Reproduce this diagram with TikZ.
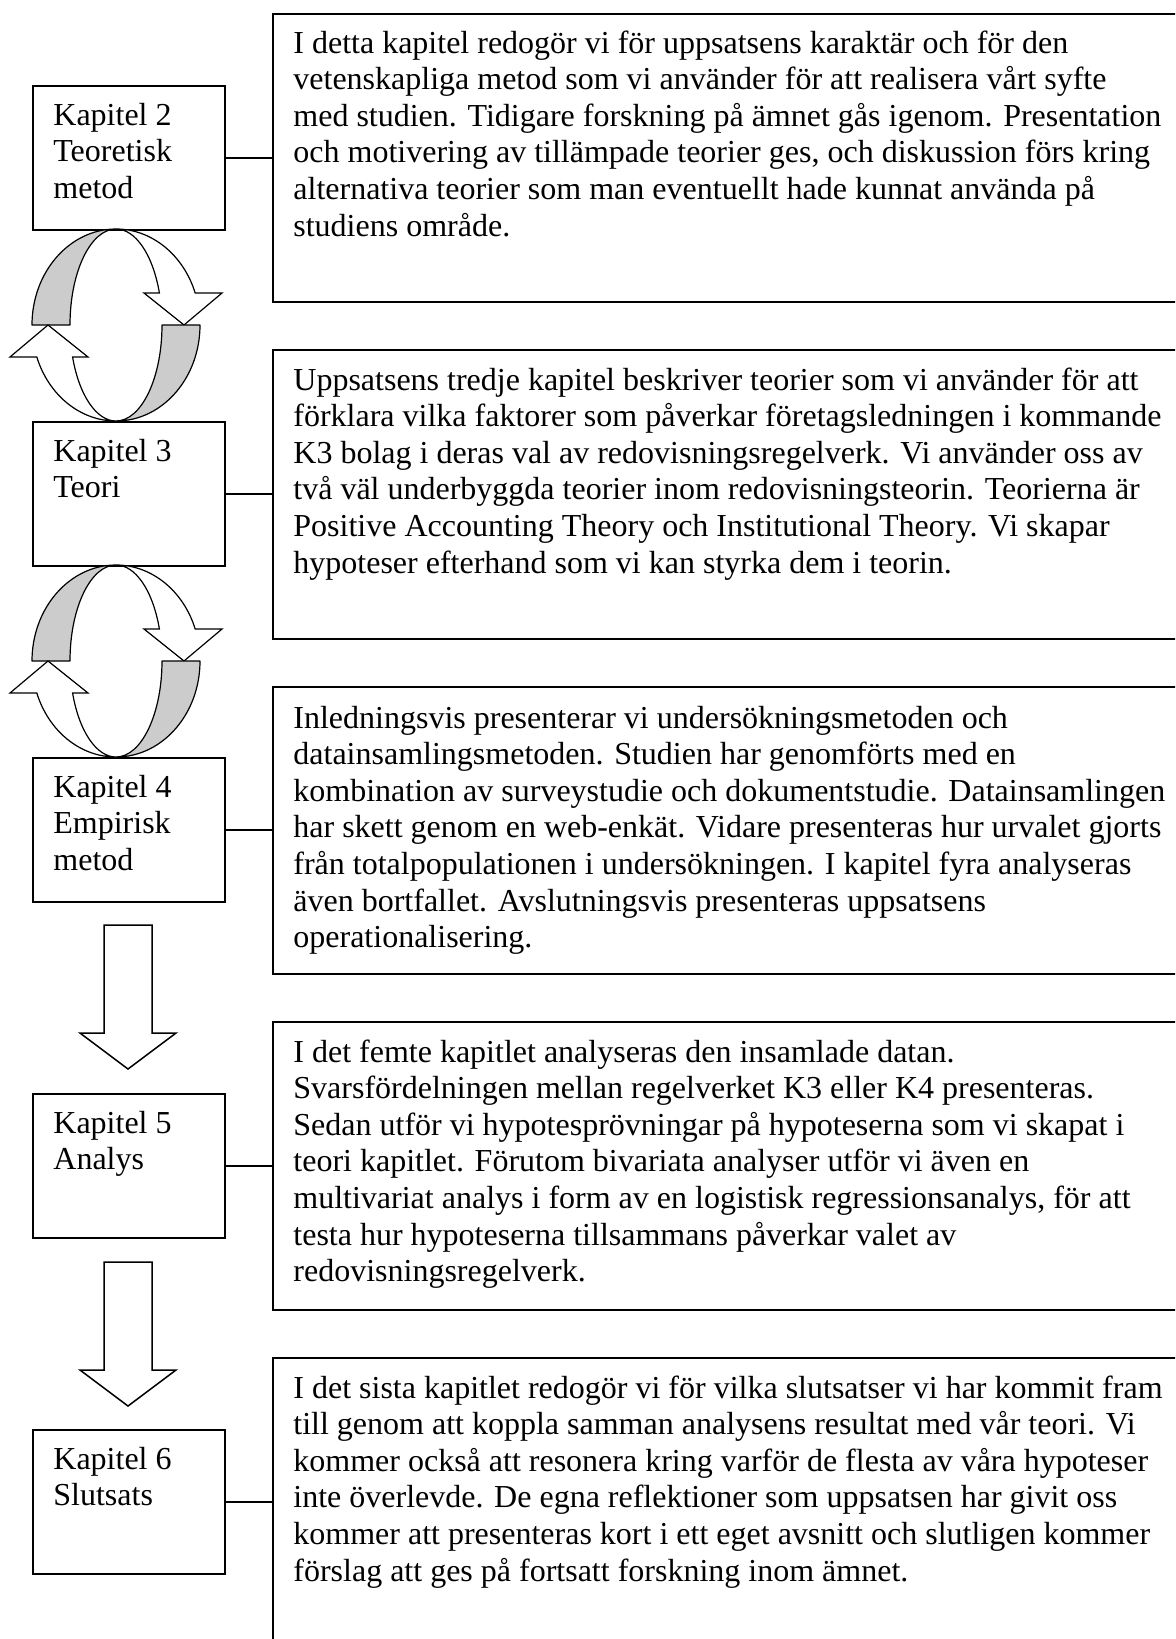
\documentclass[tikz,border=0pt]{standalone}
\usepackage{fontspec}
\setmainfont{Liberation Serif}
% a block of lines whose reference point is the baseline of its first line
\newcommand\lines[1]{\begin{tabular}[t]{@{}l@{}}#1\end{tabular}}
\begin{document}
\begin{tikzpicture}[x=0.5pt,y=0.5pt,
  chap/.style={draw, line width=0.75pt, anchor=north west, minimum width=96pt,
    minimum height=72pt, inner sep=0pt},
  desc/.style={draw, line width=0.75pt, anchor=north west, minimum width=454pt,
    minimum height=144pt, inner sep=0pt},
  txt/.style={anchor=base west, inner sep=0pt, font=\fontsize{16}{18.3}\selectfont},
  link/.style={line width=0.75pt},
  band/.style={draw, line width=0.6pt, fill=black!20, line join=round},
  hollow/.style={draw, line width=0.6pt, fill=white, line join=miter},
  swaparrows/.pic={
    % upper left shaded band
    \path[band] (-84,0) arc[start angle=180, end angle=90, x radius=84, y radius=96]
      arc[start angle=90, end angle=180, x radius=46, y radius=96] -- cycle;
    % upper right white arrow pointing down
    \path[hollow] (0,96) arc[start angle=90, end angle=19.47, x radius=84, y radius=96]
      -- (106,32) -- (68,0) -- (28,32) -- (43.4,32)
      arc[start angle=19.47, end angle=90, x radius=46, y radius=96] -- cycle;
    % lower right shaded band
    \path[band] (84,0) arc[start angle=0, end angle=-90, x radius=84, y radius=96]
      arc[start angle=-90, end angle=0, x radius=46, y radius=96] -- cycle;
    % lower left white arrow pointing up
    \path[hollow] (0,-96) arc[start angle=270, end angle=199.47, x radius=84, y radius=96]
      -- (-106,-32) -- (-68,0) -- (-28,-32) -- (-43.4,-32)
      arc[start angle=199.47, end angle=270, x radius=46, y radius=96] -- cycle;
  },
  downarrow/.pic={
    \path[hollow, line width=0.75pt] (-24,0) -- (24,0) -- (24,-108) -- (48,-108)
      -- (0,-144) -- (-48,-108) -- (-24,-108) -- cycle;
  },
]
\path[use as bounding box] (0,0) rectangle (1175,-1639);
\clip (0,0) rectangle (1175,-1639);

% chapter boxes
\node[chap] (k2) at (32,-85) {};
\node[chap] (k3) at (32,-421) {};
\node[chap] (k4) at (32,-757) {};
\node[chap] (k5) at (32,-1093) {};
\node[chap] (k6) at (32,-1429) {};

% description boxes (they run past the right edge, the last one past the bottom)
\node[desc] (r1) at (272,-13) {};
\node[desc, minimum height=144.5pt] (r2) at (272,-349) {};
\node[desc, minimum height=143.5pt] (r3) at (272,-686) {};
\node[desc] (r4) at (272,-1021) {};
\node[desc] (r5) at (272,-1357) {};

% connectors
\draw[link] (k2.east) -- (k2.east -| r1.west);
\draw[link] (k3.east) -- (k3.east -| r2.west);
\draw[link] (k4.east) -- (k4.east -| r3.west);
\draw[link] (k5.east) -- (k5.east -| r4.west);
\draw[link] (k6.east) -- (k6.east -| r5.west);

% chapter titles
\node[txt] (k2t) at ([shift={(21,-40)}]k2.north west) {\lines{Kapitel 2\\Teoretisk\\metod}};
\node[txt] (k3t) at ([shift={(21,-40)}]k3.north west) {\lines{Kapitel 3\\Teori}};
\node[txt] (k4t) at ([shift={(21,-40)}]k4.north west) {\lines{Kapitel 4\\Empirisk\\metod}};
\node[txt] (k5t) at ([shift={(21,-40)}]k5.north west) {\lines{Kapitel 5\\Analys}};
\node[txt] (k6t) at ([shift={(21,-40)}]k6.north west) {\lines{Kapitel 6\\Slutsats}};

% chapter descriptions
\node[txt] (r1t) at ([shift={(21,-40)}]r1.north west) {\lines{%
I detta kapitel redogör vi för uppsatsens karaktär och för den\\
vetenskapliga metod som vi använder för att realisera vårt syfte\\
med studien. Tidigare forskning på ämnet gås igenom. Presentation\\
och motivering av tillämpade teorier ges, och diskussion förs kring\\
alternativa teorier som man eventuellt hade kunnat använda på\\
studiens område.}};
\node[txt] (r2t) at ([shift={(21,-41)}]r2.north west) {\lines{%
Uppsatsens tredje kapitel beskriver teorier som vi använder för att\\
förklara vilka faktorer som påverkar företagsledningen i kommande\\
K3 bolag i deras val av redovisningsregelverk. Vi använder oss av\\
två väl underbyggda teorier inom redovisningsteorin. Teorierna är\\
Positive Accounting Theory och Institutional Theory. Vi skapar\\
hypoteser efterhand som vi kan styrka dem i teorin.}};
\node[txt] (r3t) at ([shift={(21,-42)}]r3.north west) {\lines{%
Inledningsvis presenterar vi undersökningsmetoden och\\
datainsamlingsmetoden. Studien har genomförts med en\\
kombination av surveystudie och dokumentstudie. Datainsamlingen\\
har skett genom en web-enkät. Vidare presenteras hur urvalet gjorts\\
från totalpopulationen i undersökningen. I kapitel fyra analyseras\\
även bortfallet. Avslutningsvis presenteras uppsatsens\\
operationalisering.}};
\node[txt] (r4t) at ([shift={(21,-41)}]r4.north west) {\lines{%
I det femte kapitlet analyseras den insamlade datan.\\
Svarsfördelningen mellan regelverket K3 eller K4 presenteras.\\
Sedan utför vi hypotesprövningar på hypoteserna som vi skapat i\\
teori kapitlet. Förutom bivariata analyser utför vi även en\\
multivariat analys i form av en logistisk regressionsanalys, för att\\
testa hur hypoteserna tillsammans påverkar valet av\\
redovisningsregelverk.}};
\node[txt] (r5t) at ([shift={(21,-41)}]r5.north west) {\lines{%
I det sista kapitlet redogör vi för vilka slutsatser vi har kommit fram\\
till genom att koppla samman analysens resultat med vår teori. Vi\\
kommer också att resonera kring varför de flesta av våra hypoteser\\
inte överlevde. De egna reflektioner som uppsatsen har givit oss\\
kommer att presenteras kort i ett eget avsnitt och slutligen kommer\\
förslag att ges på fortsatt forskning inom ämnet.}};

% iteration symbols between chapters 2-3 and 3-4
\pic at (116,-325) {swaparrows};
\pic at (116,-661) {swaparrows};

% block arrows towards chapters 5 and 6
\pic at (128,-925) {downarrow};
\pic at (128,-1262) {downarrow};
\end{tikzpicture}
\end{document}
